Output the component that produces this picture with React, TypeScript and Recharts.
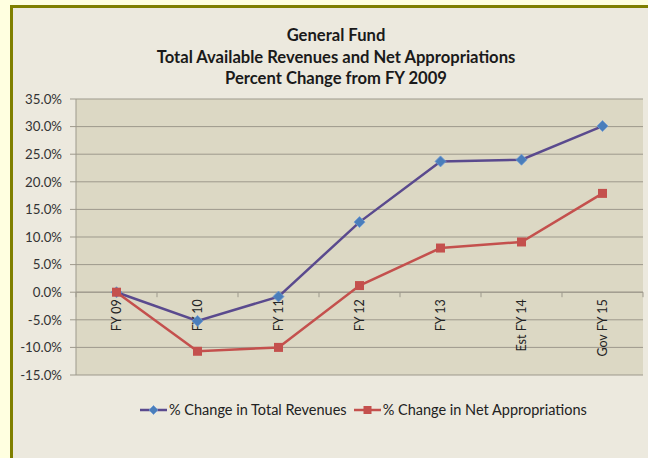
import { LineChart, Line, XAxis, YAxis, CartesianGrid, ReferenceLine, ReferenceDot, Legend } from "recharts";

const years = ["FY 09", "FY 10", "FY 11", "FY 12", "FY 13", "Est FY 14", "Gov FY 15"];
const totalRevenues = [0, -5.2, -0.8, 12.7, 23.7, 24.0, 30.1];
const netAppropriations = [0, -10.7, -10.0, 1.2, 8.0, 9.1, 17.9];
const yTicks = [-15, -10, -5, 0, 5, 10, 15, 20, 25, 30, 35];

const titleLines = ["General Fund", "Total Available Revenues and Net Appropriations", "Percent Change from FY 2009"];
const seriesNames = ["% Change in Total Revenues", "% Change in Net Appropriations"];

const data = years.map((year, i) => ({ year, revenues: totalRevenues[i], approps: netAppropriations[i] }));

const W = 648;
const H = 458;
const margin = { top: 99, right: 5, left: 0, bottom: 63 };
const Y_AXIS_W = 76;
const band = (W - margin.left - margin.right - Y_AXIS_W) / years.length;

const FONT = "Lato, 'Open Sans', sans-serif";
const PURPLE = "#5a4a8e";
const BLUE = "#4a7ebb";
const RED = "#c4504d";
const GRID = "#9d998c";

function Diamond({ cx, cy, s = 5.5 }: { cx: number; cy: number; s?: number }) {
  return <path d={`M${cx},${cy - s}L${cx + s},${cy}L${cx},${cy + s}L${cx - s},${cy}Z`} fill={BLUE} stroke="#6e9ad4" strokeWidth={0.8} />;
}

function Square({ cx, cy, s = 4.5 }: { cx: number; cy: number; s?: number }) {
  return <rect x={cx - s} y={cy - s} width={s * 2} height={s * 2} fill={RED} />;
}

function YearLabel(props: any) {
  const { cx, cy, idx } = props;
  const isLast = idx === years.length - 1;
  return (
    <g>
      <line x1={cx - band / 2} x2={cx - band / 2} y1={cy} y2={cy + 5} stroke={GRID} />
      {isLast && <line x1={cx + band / 2} x2={cx + band / 2} y1={cy} y2={cy + 5} stroke={GRID} />}
      <text
        x={cx}
        y={cy + 7}
        dy="0.35em"
        transform={`rotate(-90, ${cx}, ${cy + 7})`}
        textAnchor="end"
        fontSize={12.5}
        fontFamily={FONT}
        fill="#222"
      >
        {years[idx]}
      </text>
    </g>
  );
}

function LegendBox() {
  return (
    <div style={{ display: "flex", alignItems: "center", paddingLeft: 140, fontFamily: FONT, fontSize: 14.5, color: "#222" }}>
      <svg width={27} height={12}>
        <line x1={0} x2={27} y1={6} y2={6} stroke={PURPLE} strokeWidth={2.5} />
        <Diamond cx={13.5} cy={6} s={4.5} />
      </svg>
      <span style={{ marginLeft: 2 }}>{seriesNames[0]}</span>
      <svg width={27} height={12} style={{ marginLeft: 7 }}>
        <line x1={0} x2={27} y1={6} y2={6} stroke={RED} strokeWidth={2.5} />
        <Square cx={13.5} cy={6} s={4} />
      </svg>
      <span style={{ marginLeft: 2 }}>{seriesNames[1]}</span>
    </div>
  );
}

export default function App() {
  return (
    <div style={{ position: "absolute", left: 0, top: 0, width: W, height: H, background: "#ffffe0", overflow: "hidden" }}>
      <div
        style={{
          position: "absolute",
          left: 10,
          top: 5,
          right: 0,
          bottom: 0,
          background: "#ece9de",
          borderLeft: "3px solid #7f7f00",
          borderTop: "3px solid #7f7f00",
        }}
      />
      <div
        style={{
          position: "absolute",
          left: 0,
          width: 672,
          top: 25,
          textAlign: "center",
          fontFamily: FONT,
          fontWeight: 700,
          fontSize: 16.6,
          lineHeight: "21.5px",
          color: "#1a1a1a",
        }}
      >
        {titleLines.map((t) => (
          <div key={t}>{t}</div>
        ))}
      </div>
      <div style={{ position: "absolute", left: 0, top: 0 }}>
        <LineChart width={W} height={H} data={data} margin={margin}>
          <CartesianGrid vertical={false} stroke={GRID} fill="#dcd8c4" fillOpacity={1} />
          <XAxis dataKey="year" hide padding={{ left: band / 2, right: band / 2 }} />
          <YAxis
            width={Y_AXIS_W}
            domain={[-15, 35]}
            ticks={yTicks}
            interval={0}
            tickFormatter={(v: number) => `${v.toFixed(1)}%`}
            stroke={GRID}
            tickSize={6}
            tickMargin={8}
            tick={{ fill: "#333", fontSize: 13.3, fontFamily: FONT }}
          />
          <ReferenceLine y={0} stroke={GRID} />
          {years.map((y, i) => (
            <ReferenceDot key={y} x={y} y={0} r={0} shape={(p: any) => <YearLabel {...p} idx={i} />} />
          ))}
          <Line
            dataKey="revenues"
            stroke={PURPLE}
            strokeWidth={2.5}
            isAnimationActive={false}
            dot={(p: any) => <Diamond key={p.index} cx={p.cx} cy={p.cy} />}
          />
          <Line
            dataKey="approps"
            stroke={RED}
            strokeWidth={2.5}
            isAnimationActive={false}
            dot={(p: any) => <Square key={p.index} cx={p.cx} cy={p.cy} />}
          />
          <Legend
            height={20}
            verticalAlign="bottom"
            content={() => <LegendBox />}
            wrapperStyle={{ top: 401, bottom: "auto", left: 0, width: W }}
          />
        </LineChart>
      </div>
    </div>
  );
}
